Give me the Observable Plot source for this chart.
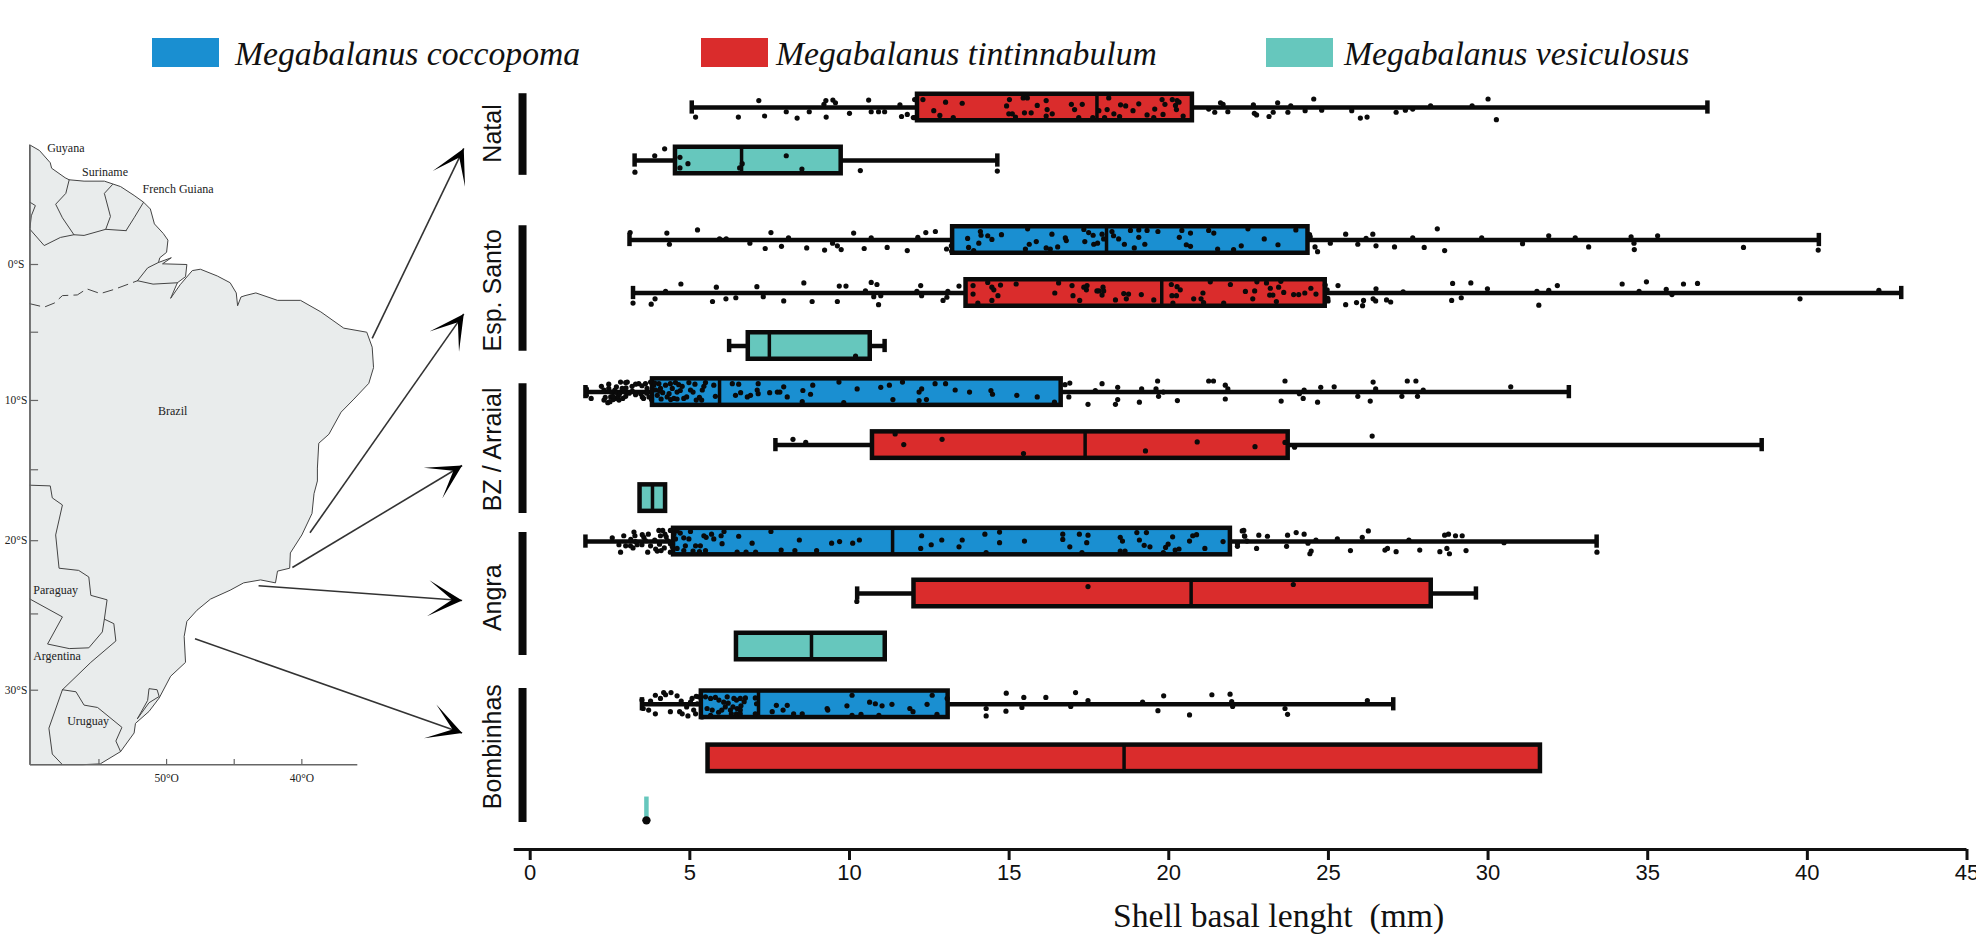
<!DOCTYPE html>
<html><head><meta charset="utf-8">
<script src="https://cdn.jsdelivr.net/npm/d3@7"></script>
<script src="https://cdn.jsdelivr.net/npm/@observablehq/plot@0.6"></script>
<style>
html,body{margin:0;padding:0;background:#fff}
#wrap{position:relative;width:1976px;height:936px;overflow:hidden}
#main,#map{position:absolute;left:0;top:0}
#map svg{overflow:visible}
.lg{position:absolute;top:38px;height:29px}
.lt{position:absolute;top:32px;font:italic 33.7px "Liberation Serif";white-space:pre;line-height:44px}
</style></head><body>
<div id="wrap"><div id="main"></div><div id="map"></div></div>
<script>
// ---------- species ----------
const speciesNames = ["Megabalanus coccopoma","Megabalanus tintinnabulum","Megabalanus vesiculosus"];
const speciesColors = ["#1a8fd1","#da2c2c","#66c7bd"];
// ---------- box plots (mm) ----------
const rowSite    = ["Natal","Natal","Esp. Santo","Esp. Santo","Esp. Santo","BZ / Arraial","BZ / Arraial","BZ / Arraial","Angra","Angra","Angra","Bombinhas","Bombinhas","Bombinhas"];
const rowSpecies = [1,2,0,1,2,0,1,2,0,1,2,0,1,2];
const rowTrack   = [0,1,2.5,3.5,4.5,5.37,6.37,7.37,8.19,9.17,10.17,11.26,12.28,13.26];
const rowLow  = [5.06,3.27,3.11,3.22,6.23,1.73,7.68,null,1.73,10.24,null,3.5,null,null];
const rowQ1   = [12.13,4.55,13.23,13.65,6.83,3.83,10.72,3.44,4.49,12.02,6.46,5.36,5.57,null];
const rowMed  = [17.75,6.62,18.05,19.78,7.49,5.93,17.38,3.83,11.35,20.7,8.81,7.15,18.6,null];
const rowQ3   = [20.74,9.74,24.36,24.9,10.65,16.63,23.74,4.24,21.93,28.22,11.12,13.09,31.64,null];
const rowHigh = [36.87,14.63,40.36,42.94,11.1,32.53,38.57,null,33.4,29.62,null,27.03,null,null];
// ---------- raw observations: [length mm, vertical jitter] ----------
const dotsNatalT = [[5.18,.18],[6.52,.18],[7.16,-.13],[7.34,.16],[8.02,.08],[8.36,.2],[8.74,.08],[9.27,.18],[9.26,-.13],[9.2,-.06],[9.48,-.14],[9.56,-.09],[10,.11],[10.6,-.14],[10.68,.08],[10.91,.08],[11.1,.08],[11.58,-.05],[11.63,.17],[11.81,.13],[12.03,.19],
[12.04,-.15],[12,.19],[12.3,-.15],[13.01,-.1],[13.53,-.08],[12.64,.06],[12.83,.15],[13.25,.19],[15.01,-.15],[14.92,-.03],[14.99,.12],[15.1,.12],[15.2,.18],[15.48,.1],[15.69,.1],[15.44,-.18],[15.57,-.18],[15.88,-.04],[16.16,-.13],[16.19,.04],[16.16,.16],[16.35,.12],[16.95,-.06],[17.05,.04],[17.29,-.06],[17.18,.19],[17.62,.19],[17.81,.06],[18.12,-.18],[18.07,.04],[18.28,.12],[17.99,.19],[18.46,.17],[18.49,-.05],[18.65,-.03],[18.88,.06],[19.06,-.07],[19.32,.14],[19.56,.03],[19.53,.19],[19.79,-.15],[19.88,-.06],[19.82,.13],[20.11,-.15],[20.26,-.13],[20.21,-.04],[20.24,.04],[20.45,.16],[20.32,-.1],
[21.25,.03],[21.44,.09],[21.62,-.09],[21.7,-.06],[21.85,.08],[22.65,-.05],[22.68,.11],[22.75,.14],[23.14,.17],[23.27,.09],[23.41,-.09],[23.73,.09],[23.82,-.03],[24.27,.06],[24.54,-.16],[24.79,.05],[25.73,.06],[26,.2],[26.21,.18],[27.12,.09],[27.41,.05],[27.64,.03],[28.2,-.03],[29.5,-.03],[30,-.16],[30.26,.23]];
const dotsNatalV = [[3.28,.22],[3.9,-.09],[4.21,-.22],[4.69,-.06],[4.69,.14],[4.94,.06],[6.56,.14],[6.64,.06],[8.02,-.09],[8.51,.16],[10.34,.19],[14.63,.2]];
const dotsEspC = [[3.13,-.14],[4.28,-.13],[4.36,.08],[5.24,-.19],[5.93,-.02],[6.14,-.02],[6.88,.06],[7.36,.16],[7.54,-.14],[7.87,.12],[8.09,-.04],[8.66,.15],[9.22,.19],[9.47,.06],[9.62,.11],[9.74,.18],[10.13,-.13],[10.46,.16],[10.68,-.04],[11.18,.14],[11.81,.2],[12.14,-.05],[12.39,-.14],[12.69,-.16],[13.04,.17],[13.19,.11],[13.2,.21],
[13.7,-.03],[13.73,.14],[13.89,.2],[14.05,.06],[14.1,-.16],[14.12,-.09],[14.33,-.08],[14.46,-.01],[14.76,-.1],[15.51,.17],[15.58,-.21],[15.63,.08],[15.85,.03],[16.16,.15],[16.29,.17],[16.34,-.11],[16.52,.13],[16.76,-.04],[16.79,.01],[17.37,.03],[17.34,-.2],[17.49,-.14],[17.63,-.09],[17.65,.08],[17.77,.06],[17.91,-.11],[17.96,-.02],[18.22,-.16],[18.27,-.08],[18.43,-.02],[18.61,.08],[18.8,-.18],[19.06,-.19],[19.06,-.05],[18.92,.15],[19.25,.08],[19.32,-.18],[19.66,-.16],[20.41,-.18],[20.33,-.05],[20.68,-.13],[20.55,.09],[20.68,.12],[21.25,-.18],[21.41,-.13],[21.53,.17],[22.03,.18],[22.27,.11],[22.48,-.21],[22.99,-.02],[23.42,.09],[23.98,-.19],[24.41,-.1],
[24.43,-.06],[24.58,.13],[24.66,.22],[25.06,.06],[25.54,-.11],[25.92,.08],[26.18,-.03],[26.39,-.11],[26.49,.11],[27.07,.13],[27.64,-.04],[28,.14],[28.41,-.21],[28.64,.2],[29.8,-.04],[31.08,.07],[31.9,-.08],[32.73,-.04],[33.15,.13],[34.48,-.06],[34.57,.06],[34.58,.18],[35.31,-.08],[38,.14],[40.34,.19]];
const dotsEspT = [[3.22,.19],[3.79,.21],[3.91,.11],[4.24,-.03],[4.72,-.17],[5.71,.16],[5.83,-.11],[6.13,.11],[6.44,.09],[7.1,-.12],[7.3,.07],[7.94,.15],[8.57,-.19],[8.83,.16],[9.62,.16],[9.68,-.13],[9.89,-.13],[10.5,-.04],[10.68,-.2],[10.86,-.16],[10.76,.07],[10.98,.05],[10.91,.22],[12.11,-.03],[12.23,-.14],[12.26,.05],[12.93,.14],[13.05,.08],[13.08,-.03],[13.43,-.13],
[13.87,-.14],[13.87,.02],[14.02,.19],[14.33,-.2],[14.46,-.11],[14.52,-.06],[14.46,.14],[14.65,.05],[14.73,-.15],[15.22,-.17],[16.43,0],[16.55,-.19],[16.97,-.14],[17,.05],[17.21,.14],[17.34,-.11],[17.44,-.14],[17.42,-.06],[17.75,-.04],[17.81,-.04],[17.94,-.11],[17.96,-.04],[17.91,.04],[18.33,.13],[18.59,.01],[18.74,.02],[18.67,.11],[19.14,.03],[19.53,.13],[20.08,-.16],[20.26,-.12],[20.36,-.06],[20.1,.05],[20.24,.05],[20.13,.19],[20.78,.11],[21.07,0],[21.01,.11],[21.09,.18],[21.3,-.21],[21.72,.19],[21.93,-.16],[22.4,-.03],[22.69,-.04],[22.63,.11],[22.76,-.21],[23.06,-.19],[23.18,-.09],[23.16,.04],[23.26,.04],[23.44,-.11],[23.37,.16],[23.6,-.01],[23.51,-.22],[23.91,.03],[24.07,.03],[24.26,0],[24.45,-.09],[24.61,.02],[24.9,-.15],[24.96,-.06],[24.98,.1],
[24.99,.15],[25.3,-.14],[25.54,.22],[25.88,.18],[26.1,.14],[26.07,.24],[26.4,.11],[26.49,-.08],[26.48,.15],[26.82,.13],[26.95,.17],[27.34,-.02],[28.86,.14],[28.89,-.18],[29.16,.09],[29.46,-.19],[29.98,-.08],[31.53,-.03],[31.59,.23],[31.9,-.05],[32.17,-.14],[34.2,-.17],[34.73,-.03],[34.96,-.21],[35.58,-.07],[35.76,.03],[36.12,-.17],[36.56,-.18],[39.77,.11],[42.24,-.05]];
const dotsEspV = [[10.19,.19]];
const dotsBzC = [[1.76,.06],[1.76,-.06],[1.91,.12],[2.23,-.11],[2.31,-.04],[2.46,-.15],[2.46,-.07],[2.55,0],[2.52,.09],[2.43,.2],[2.5,.18],[2.31,.15],[2.65,-.04],[2.72,.01],[2.67,.12],[2.78,.15],[2.76,.08],[2.83,-.19],[2.88,-.07],[2.99,-.18],[2.93,-.04],[2.99,.08],[3.04,-.19],[3.19,-.11],[3.4,-.16],[3.46,.03],[3.51,.09],[3.61,-.16],[3.66,-.07],[3.72,.09],[3.77,-.19],[3.87,-.13],[3.93,-.04],[3.98,.06],[4.03,-.16],[4.08,-.07],[4.15,.01],[4.24,-.13],[4.29,.09],[4.39,-.16],[4.45,-.07],[4.55,-.18],[4.6,0],[4.5,.12],[4.76,-.11],[4.81,.12],[4.97,-.18],[5.02,-.04],[5.16,-.15],[5.44,-.11],[5.49,-.18],[5.39,-.04],[5.2,.15],[5.37,.15],[5.75,-.13],[5.8,.08],[6.33,-.16],[6.43,.06],[6.59,.01],[6.53,-.15],[6.8,.09],[6.9,.06],[7.11,-.04],[7.14,.03],[7.14,-.16],[7.5,.01],[7.74,0],[7.82,0],[7.94,-.1],[8.05,.09],[8.54,-.03],[8.78,.04],[8.52,.18],[8.85,-.13],[9.67,-.19],[9.82,.2],[10.24,-.06],
[3.5,-.12],[3.3,.05],[3.55,.12],[3.8,.14],[4.1,.13],[4.05,-.02],[4.35,.03],[4.6,.13],[4.9,.09],[4.7,-.03],[5.1,0],[5.3,.1],[2.6,.14],[2.9,.12],[3.1,.02],[2.7,-.1],[3,-.08],[2.35,.1],[2.6,.08],[2.8,.03],[3.2,-.02],[3.3,-.15],[3.65,.02],[3.9,-.17],[4.4,.14],[4.65,-.14],
[10.98,-.09],[11.25,-.13],[11.66,-.19],[11.36,.14],[12.18,0],[12.26,-.06],[12.18,.16],[12.41,.14],[12.68,-.16],[13.01,-.16],[13.31,-.04],[13.76,0],[14.43,-.03],[14.48,.04],[15.24,.06],[15.88,.09],[16.42,.19],[16.75,-.14],[16.9,-.17],[16.87,.09],[17.47,.23],[17.91,-.16],[17.7,-.03],[18.33,.23],[18.4,-.09],[18.4,.14],[19.08,.19],[19.15,-.06],[19.65,-.21],[19.6,-.06],[19.68,.08],[19.83,0],[20.27,.16],[21.25,-.21],[21.4,-.21],[21.77,-.13],[21.85,-.06],[21.77,.13],
[23.52,.17],[23.64,-.21],[24.09,.03],[24.24,-.04],[24.21,.12],[24.66,.19],[24.76,-.09],[25.18,-.1],[25.92,.08],[26.31,.17],[26.4,-.19],[26.48,-.06],[27.3,.08],[27.47,-.21],[27.74,-.21],[27.79,.08],[27.97,-.04],[30.71,-.1]];
const dotsBzT = [[8.23,-.11],[8.63,-.05],[11.43,-.21],[11.7,-.01],[12.9,-.11],[15.45,.16],[19.27,.11],[20.89,-.06],[22.7,.03],[23.64,-.05],[23.94,.04],[26.37,-.17]];
const dotsAngC = [[2.57,-.07],[2.78,.06],[2.93,-.11],[2.83,.2],[2.99,.08],[3.14,.08],[3.25,-.18],[3.28,-.11],[3.22,.12],[3.35,.06],[3.51,-.13],[3.56,-.08],[3.61,-.02],[3.68,.2],[3.77,.08],[3.93,.14],[3.98,.18],[4.03,-.21],[4.08,-.11],[4.15,-.21],[4.22,-.14],[4.26,-.09],[4.39,-.21],[4.5,-.14],[4.39,.04],[4.39,.2],[4.55,-.05],[4.81,-.07],[4.86,.08],[4.81,.17],[4.97,-.05],[5.02,-.19],[5.18,.08],[5.33,.08],[5.44,-.11],[5.51,-.08],[5.49,.17],[5.68,-.14],[5.75,-.05],[5.98,-.11],[6.01,.04],[6.07,-.19],[6.53,-.1],[6.48,.2],[6.76,.2],[6.95,.03],[7.06,.2],[7.54,-.19],[7.86,.16],[8.29,.17],[8.43,-.03],[8.97,.17],[9.44,.03],[9.69,0],[10.1,.03],[10.31,-.03],
[3.9,-.03],[4.05,.05],[4.2,.12],[4.1,.17],[4.3,-.02],[4.45,.1],[4.6,.13],[3.7,-.14],[3.5,.06],[3.3,0],[4.7,-.16],[4.6,-.2],[5.1,.18],[5.3,.19],[3.15,-.04],
[12.26,-.11],[12.23,.13],[12.56,.06],[12.89,-.03],[13.53,-.03],[13.43,.1],[14.24,-.14],[14.7,-.18],[14.7,.02],[14.28,.21],[15.48,-.01],[16.68,-.14],[16.68,-.04],[16.9,.1],[17.2,-.14],[17.47,-.12],[17.43,.02],[17.28,.21],[18.48,-.08],[18.55,-.01],[18.48,.18],[18.63,.18],[19,-.17],[19.08,-.03],[19.23,.07],[19.41,.1],[19.3,-.17],[20.12,-.09],[19.9,.11],[19.98,.05],[19.83,.21],[20.2,.16],[20.32,.14],[20.65,-.01],[20.75,-.11],[20.87,-.13],[21.13,.13],[21.7,0],[22.3,-.2],[22.37,-.11],[22.45,-.01],[22.15,.04],
[22.15,.09],[22.35,-.21],[22.38,-.1],[22.75,.13],[22.82,-.12],[23.09,-.1],[23.72,-.12],[23.69,.09],[23.99,-.17],[24.24,-.14],[24.36,.03],[24.61,-.03],[24.46,.18],[24.42,.23],[25.28,-.05],[25.69,.17],[26.06,-.08],[26.25,-.2],[26.77,.16],[26.85,.13],[27.12,.19],[27.52,-.03],[27.86,.16],[28.49,.19],[28.64,-.12],[28.76,-.14],[28.71,.13],[28.79,.23],[28.98,-.11],[29.19,-.11],[29.31,.17],[30.5,.02],[33.41,.2]];
const dotsAngT = [[10.23,.15],[17.47,-.13],[23.9,-.17]];
const dotsBomC = [[3.5,-.08],[3.54,.08],[3.71,.11],[3.77,-.06],[3.92,-.17],[3.92,.18],[4.08,-.11],[4.18,-.22],[4.24,-.18],[4.39,.14],[4.41,-.22],[4.6,-.16],[4.68,.14],[4.73,-.06],[4.76,.18],[4.94,.22],[5.07,-.11],[5.02,-.04],[5.12,.11],[5.28,-.14],[5.23,-.01],[5.18,.18],[5.38,.24],[5.49,-.14],[5.65,-.11],[5.54,.08],[5.7,.11],[5.65,.21],[5.91,-.08],[6.06,-.04],[6.17,-.14],[6.11,.05],[6.27,.11],[6.38,-.11],[6.46,-.08],[6.58,-.11],[6.74,-.12],[6.48,.08],[6.58,.11],[6.46,.18],[6.58,.18],[7.05,-.12],[7.09,-.01],[7.05,.18],[7.58,.14],[7.71,.02],[7.92,.11],[8.05,.02],[8.25,.18],[8.52,.18],[9.3,.08],[9.32,.11],[9.92,.03],[10.08,-.17],[10.08,.21],[10.36,.19],[10.63,-.04],[10.81,-.01],[11.02,.03],[11.33,0],[10.92,.21],[11.89,.08],[11.99,.14],[12.43,0],[12.59,-.17],[12.74,.19],[13.06,-.11],
[5.9,.15],[6.3,.18],[6.6,.03],[5.8,-.13],[6,.11],[6.35,.05],[6.7,-.05],[4.9,.05],[5.2,-.15],[6.2,-.02],
[14.28,.08],[14.28,.22],[14.91,-.21],[14.9,.13],[15.4,.06],[15.46,-.13],[16.15,-.13],[16.93,.04],[17.08,-.22],[17.47,-.07],[19.18,-.04],[19.66,.12],[19.84,-.16],[20.65,.2],[21.35,-.18],[21.92,-.19],[21.97,-.05],[22,.04],[26.22,-.07],[23.64,.08],[23.72,.19]];
const dotsBomV = [[3.64,.19]];
// ---------- axis and site groups ----------
const xTicks = [0,5,10,15,20,25,30,35,40,45];
const xTitle = "Shell basal lenght  (mm)";
const siteNames  = ["Natal","Esp. Santo","BZ / Arraial","Angra","Bombinhas"];
const siteCenter = [0.49,3.45,6.45,9.25,12.06];
const siteTop    = [-0.26,2.23,5.21,8.02,10.96];
const siteBottom = [1.28,4.6,7.66,10.34,13.49];
// ---------- map: lon / lat ----------
const coast = [[-60.1,8.8],[-59.4,8.4],[-58.6,7.5],[-58.5,7.1],[-57.5,6.4],[-57.2,6.25],[-56.1,6.15],[-54.6,6.15],[-53.4,5.75],[-52.4,5.1],[-51.7,4.6],[-51.2,4.1],[-50.9,3],[-50.25,2.3],[-49.9,1.8],[-50,.9],[-50.5,.5],[-50.6,.15],[-49.65,.5],[-50.3,.05],[-48.5,0],[-48.6,-.9],[-49.2,-1.35],[-49.7,-2.5],[-49,-1.5],[-48.1,-.45],[-47.5,-.35],[-46.25,-.85],[-45.3,-1.35],[-44.85,-2.1],[-44.75,-3.05],[-44.5,-2.4],[-44.2,-2.3],[-43.4,-2.1],[-41.8,-2.65],[-40.1,-2.65],[-38.6,-3.5],[-36.9,-4.7],[-35.2,-5],[-34.8,-6.1],[-34.7,-7.6],[-35.05,-8.75],[-36.15,-9.9],[-37.1,-10.85],[-38,-12.45],[-38.75,-13.1],[-38.85,-14.88],[-38.85,-15.8],[-39.1,-16.7],[-39.25,-18.1],[-40,-19.6],[-40.85,-20.85],[-40.9,-21.9],[-41.8,-22.1],[-41.95,-22.9],[-43.05,-22.7],[-44.3,-22.9],[-45.3,-23.4],[-46.75,-24],[-47.75,-24.75],[-48.5,-25.5],[-48.7,-26.5],[-48.6,-28.2],[-49.7,-29.1],[-50.55,-30.5],[-51.3,-31.35],[-52.3,-32.1],[-52.4,-32.7],[-53.4,-33.85],[-54.9,-34.6],[-56.2,-34.65],[-57.5,-34.65],[-58.8,-34.65],[-60.1,-34.65],[-60.1,-20],[-60.1,-5],[-60.1,8.8]];
const borderLines = [
 [[-57.2,6.25],[-57.45,5.25],[-58.2,4.45],[-57.7,3.45],[-56.85,2.2]],
 [[-54,5.9],[-54.6,5.25],[-54.15,3.55],[-54.5,2.6]],
 [[-51.7,4.6],[-52.4,3.45],[-53,2.5]],
 [[-60.1,2.6],[-59.05,1.4],[-57.85,2],[-56.85,2.2],[-56.1,2.15],[-54.5,2.6],[-53,2.5]],
 [[-60.1,4.6],[-59.7,4.35],[-60,3.6],[-60.1,2.7]],
 [[-60.1,-16.1],[-58.6,-16.15],[-58.45,-17],[-57.7,-17.5],[-58.2,-19.6],[-57.95,-21.9],[-56.5,-22.05],[-55.75,-22.5],[-55.6,-23.75],[-54.4,-24.05],[-54.6,-25.35],[-54.75,-26.2],[-55.75,-27.25],[-57.2,-27.3],[-58.8,-27],[-57.7,-25.2],[-60.1,-24]],
 [[-54.6,-25.35],[-53.9,-25.65],[-53.75,-26.8],[-55.6,-28.2],[-57.7,-29.97]],
 [[-57.7,-29.97],[-56.7,-30.1],[-56.1,-30.95],[-55.1,-31.1],[-53.3,-32.35],[-53.75,-33.2],[-53.4,-33.85]],
 [[-57.7,-29.97],[-58.7,-32.4],[-58.45,-34],[-57.7,-34.65]],
 [[-52.15,-31.8],[-51.3,-30.8],[-50.55,-30.4],[-50.7,-29.97],[-51.3,-29.9],[-51.4,-30.65],[-52.15,-31.8]],
 [[-52.15,-1.2],[-51.4,-.25],[-50.6,.15]],
 [[-52.15,-1.2],[-51,-1.45],[-49.2,-1.35]]
];
const amazonDashed = [[-60.1,-2.9],[-59.05,-3.15],[-58.3,-2.85],[-57.7,-2.3],[-56.6,-2.25],[-55.9,-1.8],[-54.9,-2.15],[-53.9,-1.85],[-52.15,-1.2]];
const countryNames = ["Guyana","Suriname","French Guiana","Brazil","Paraguay","Argentina","Uruguay"];
const countryLon   = [-57.45,-54.55,-49.15,-49.55,-58.2,-58.1,-55.8];
const countryLat   = [8.55,6.8,5.55,-10.75,-23.4,-27.8,-31.95];
const latTicks  = [0,-5,-10,-15,-20,-25,-30];
const lonTicks  = [-55,-50,-45,-40];
const latLabels = [["0°S",0],["10°S",-10],["20°S",-20],["30°S",-30]];
const lonLabels = [["50°O",-50],["40°O",-40]];
const arrowFrom = [[-34.8,-5.45],[-39.4,-19.45],[-40.7,-21.85],[-43.2,-23.1],[-47.9,-26.65]];
const arrowTip  = [[-28.03,8.55],[-28.03,-3.65],[-28.15,-14.7],[-28.15,-24.1],[-28.15,-32.7]];
const arrowBearing = [26,35,59,94,110];

// ---------- tables ----------
const rows = rowSite.map((site,i)=>({site,sp:rowSpecies[i],track:rowTrack[i],low:rowLow[i],q1:rowQ1[i],med:rowMed[i],q3:rowQ3[i],high:rowHigh[i]}));
const boxes = rows.filter(d=>d.q1!=null);
const whisk = rows.filter(d=>d.low!=null);
const dotSets = [[dotsNatalT,0],[dotsNatalV,1],[dotsEspC,2],[dotsEspT,3],[dotsEspV,4],[dotsBzC,5],[dotsBzT,6],[dotsAngC,8],[dotsAngT,9],[dotsBomC,11]];
const dots = dotSets.flatMap(([arr,r])=>arr.map(([x,o])=>({x,y:rowTrack[r]+o})));
const H = 0.25, CAP = 0.125;
const sans = "Liberation Sans", serif = "Liberation Serif";

const main = Plot.plot({
  width:1976,height:936,marginLeft:529.7,marginRight:9.5,marginTop:107,marginBottom:87,
  x:{domain:[0,45]},
  y:{domain:[14,0],axis:null},
  marks:[
    Plot.ruleX(siteNames.map((s,i)=>i),{x:-0.24,y1:i=>siteTop[i],y2:i=>siteBottom[i],stroke:"#0a0a0a",strokeWidth:8}),
    Plot.text(siteNames,{x:-1.15,y:(d,i)=>siteCenter[i],text:d=>d,rotate:-90,fontSize:25,fontFamily:sans,fill:"#111"}),
    Plot.ruleY(whisk,{y:"track",x1:"low",x2:"high",stroke:"#0a0a0a",strokeWidth:4.5}),
    Plot.ruleX(whisk,{x:"low",y1:d=>d.track-CAP,y2:d=>d.track+CAP,stroke:"#0a0a0a",strokeWidth:4.5}),
    Plot.ruleX(whisk,{x:"high",y1:d=>d.track-CAP,y2:d=>d.track+CAP,stroke:"#0a0a0a",strokeWidth:4.5}),
    Plot.rect(boxes,{x1:"q1",x2:"q3",y1:d=>d.track-H,y2:d=>d.track+H,fill:d=>speciesColors[d.sp],stroke:"#0a0a0a",strokeWidth:4.5}),
    Plot.ruleX(boxes,{x:"med",y1:d=>d.track-H,y2:d=>d.track+H,stroke:"#0a0a0a",strokeWidth:3.5}),
    Plot.ruleX([dotsBomV[0][0]],{y1:rowTrack[13]-0.25,y2:rowTrack[13]+dotsBomV[0][1],stroke:speciesColors[2],strokeWidth:4.5}),
    Plot.dot(dots,{x:"x",y:"y",r:2.6,fill:"#0a0a0a",stroke:"none"}),
    Plot.dot(dotsBomV,{x:d=>d[0],y:d=>rowTrack[13]+d[1],r:4.2,fill:"#0a0a0a",stroke:"none"}),
    Plot.ruleY([14],{x1:-0.5,x2:45,stroke:"#111",strokeWidth:3}),
    Plot.axisX({ticks:xTicks,label:null,tickSize:11,tickPadding:4,fontSize:22,fontFamily:sans,stroke:"#111",strokeWidth:3,fill:"#111"}),
    Plot.text([xTitle],{x:23.44,y:15.25,text:d=>d,fontSize:33.7,fontFamily:serif,fill:"#111"})
  ]
});
document.getElementById("main").append(main);

const dart = {draw(ctx,l){const w=18;ctx.moveTo(0,-l);ctx.lineTo(w,0);ctx.lineTo(0,-l*0.7);ctx.lineTo(-w,0);ctx.closePath();}};
const map = Plot.plot({
  width:480,height:860,margin:0,
  projection:d3.geoMercator().scale(775).translate([842.4,264]),
  marks:[
    Plot.geo({type:"Polygon",coordinates:[coast]},{fill:"#e9ecec",stroke:"#444",strokeWidth:1}),
    Plot.geo({type:"MultiLineString",coordinates:borderLines},{stroke:"#444",strokeWidth:1,fill:"none"}),
    Plot.geo({type:"LineString",coordinates:amazonDashed},{stroke:"#444",strokeWidth:1,strokeDasharray:"10,6",fill:"none"}),
    Plot.link(latTicks,{x1:-60.1,x2:-59.5,y1:d=>d,y2:d=>d,curve:"linear",stroke:"#666",strokeWidth:1.2}),
    Plot.link(lonTicks,{y1:-34.65,y2:-34.3,x1:d=>d,x2:d=>d,curve:"linear",stroke:"#666",strokeWidth:1.2}),
    Plot.link([0],{x1:-60.1,x2:-60.1,y1:8.8,y2:-34.65,curve:"linear",stroke:"#666",strokeWidth:1.5}),
    Plot.link([0],{x1:-60.1,x2:-35.9,y1:-34.65,y2:-34.65,curve:"linear",stroke:"#666",strokeWidth:1.5}),
    Plot.text(countryNames,{x:(d,i)=>countryLon[i],y:(d,i)=>countryLat[i],text:d=>d,fontSize:12,fontFamily:serif,fill:"#222"}),
    Plot.text(latLabels,{x:-61.13,y:d=>d[1],text:d=>d[0],fontSize:11.5,fontFamily:serif,fill:"#222"}),
    Plot.text(lonLabels,{x:d=>d[1],y:-35.5,text:d=>d[0],fontSize:11.5,fontFamily:serif,fill:"#222"}),
    Plot.link(arrowFrom,{x1:d=>d[0],y1:d=>d[1],x2:(d,i)=>arrowTip[i][0],y2:(d,i)=>arrowTip[i][1],curve:"linear",stroke:"#333",strokeWidth:1.6}),
    Plot.vector(arrowTip,{x:d=>d[0],y:d=>d[1],rotate:(d,i)=>arrowBearing[i],length:34,anchor:"end",shape:dart,fill:"#000",stroke:"none"})
  ]
});
document.getElementById("map").append(map);

// ---------- legend ----------
const wrap = document.getElementById("wrap");
const swLeft = [152,701,1266], txtLeft = [235,776,1344];
speciesNames.forEach((name,i)=>{
  const s=document.createElement("div");s.className="lg";s.style.left=swLeft[i]+"px";s.style.width="67px";s.style.background=speciesColors[i];wrap.append(s);
  const t=document.createElement("div");t.className="lt";t.style.left=txtLeft[i]+"px";t.textContent=name;t.style.color="#111";wrap.append(t);
});
</script>
</body></html>
